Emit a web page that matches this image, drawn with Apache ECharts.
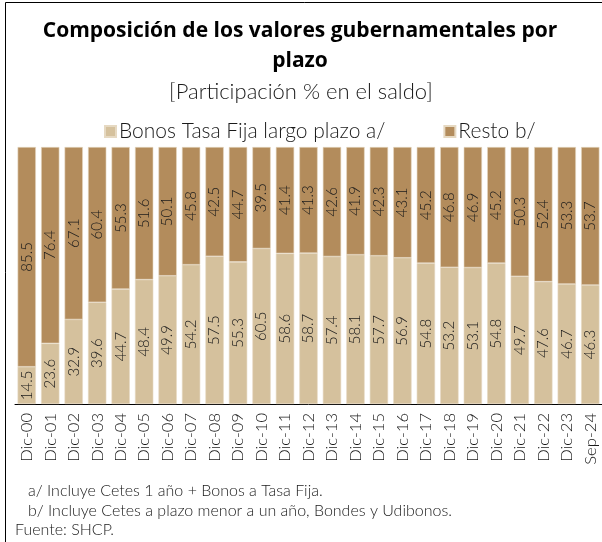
<!DOCTYPE html>
<html>
<head>
<meta charset="utf-8">
<script src="https://cdn.jsdelivr.net/npm/echarts@6/dist/echarts.min.js"></script>
<style>
  html, body { margin: 0; padding: 0; background: #fff; }
  #main { width: 602px; height: 542px; }
</style>
</head>
<body>
<div id="main"></div>
<script>
var categories = ['Dic-00', 'Dic-01', 'Dic-02', 'Dic-03', 'Dic-04', 'Dic-05', 'Dic-06', 'Dic-07', 'Dic-08', 'Dic-09',
  'Dic-10', 'Dic-11', 'Dic-12', 'Dic-13', 'Dic-14', 'Dic-15', 'Dic-16', 'Dic-17', 'Dic-18', 'Dic-19',
  'Dic-20', 'Dic-21', 'Dic-22', 'Dic-23', 'Sep-24'];
var bonosTasaFija = [14.5, 23.6, 32.9, 39.6, 44.7, 48.4, 49.9, 54.2, 57.5, 55.3,
  60.5, 58.6, 58.7, 57.4, 58.1, 57.7, 56.9, 54.8, 53.2, 53.1,
  54.8, 49.7, 47.6, 46.7, 46.3];
var resto = [85.5, 76.4, 67.1, 60.4, 55.3, 51.6, 50.1, 45.8, 42.5, 44.7,
  39.5, 41.4, 41.3, 42.6, 41.9, 42.3, 43.1, 45.2, 46.8, 46.9,
  45.2, 50.3, 52.4, 53.3, 53.7];

var chartDom = document.getElementById('main');
var myChart = echarts.init(chartDom);
var option;

var lightFont = 'Lato';
var labelStyle = {
  show: true,
  position: 'inside',
  rotate: 90,
  color: '#1a1a1a',
  fontFamily: lightFont,
  fontWeight: 300,
  fontSize: 15,
  formatter: function (p) {
    return p.value.toFixed(1);
  }
};

option = {
  animation: false,
  color: ['#d5c19d', '#b38c5c'],
  legend: {
    top: 116,
    left: 99,
    itemGap: 58,
    itemWidth: 11,
    itemHeight: 11,
    icon: 'rect',
    textStyle: {
      fontFamily: lightFont,
      fontWeight: 300,
      fontSize: 21,
      color: '#1a1a1a',
      padding: [0, 0, 0, -2]
    },
    data: ['Bonos Tasa Fija largo plazo a/', 'Resto b/']
  },
  grid: {
    left: 15,
    right: 0,
    top: 147,
    bottom: 138
  },
  xAxis: {
    type: 'category',
    data: categories,
    axisTick: { show: false },
    axisLine: { lineStyle: { color: '#000', width: 1 } },
    axisLabel: {
      rotate: 90,
      margin: 9,
      interval: 0,
      color: '#1a1a1a',
      fontFamily: lightFont,
      fontWeight: 300,
      fontSize: 16.5
    }
  },
  yAxis: {
    type: 'value',
    min: 0,
    max: 100,
    show: false
  },
  series: [
    {
      name: 'Bonos Tasa Fija largo plazo a/',
      type: 'bar',
      stack: 'total',
      barCategoryGap: '22%',
      data: bonosTasaFija,
      itemStyle: { borderColor: '#e6d9c2', borderWidth: 0.6 },
      label: labelStyle
    },
    {
      name: 'Resto b/',
      type: 'bar',
      stack: 'total',
      barCategoryGap: '22%',
      data: resto,
      itemStyle: { borderColor: '#e6d9c2', borderWidth: 0.6 },
      label: labelStyle
    }
  ],
  graphic: [
    {
      type: 'polyline',
      shape: { points: [[5.5, 545], [5.5, 2.5], [605, 2.5]] },
      style: { stroke: '#000', lineWidth: 1, fill: null }
    },
    {
      type: 'text',
      x: 300,
      y: 31,
      style: {
        text: 'Composición de los valores gubernamentales por',
        align: 'center',
        verticalAlign: 'middle',
        fontFamily: 'Open Sans',
        fontWeight: 'bold',
        fontSize: 21,
        fill: '#000'
      }
    },
    {
      type: 'text',
      x: 300,
      y: 61,
      style: {
        text: 'plazo',
        align: 'center',
        verticalAlign: 'middle',
        fontFamily: 'Open Sans',
        fontWeight: 'bold',
        fontSize: 21,
        fill: '#000'
      }
    },
    {
      type: 'text',
      x: 301,
      y: 92,
      style: {
        text: '[Participación % en el saldo]',
        align: 'center',
        verticalAlign: 'middle',
        fontFamily: lightFont,
        fontWeight: 300,
        fontSize: 22,
        fill: '#1a1a1a'
      }
    },
    {
      type: 'text',
      x: 28,
      y: 491,
      style: {
        text: 'a/ Incluye Cetes 1 año + Bonos a Tasa Fija.',
        verticalAlign: 'middle',
        fontFamily: lightFont,
        fontWeight: 300,
        fontSize: 16,
        fill: '#1a1a1a'
      }
    },
    {
      type: 'text',
      x: 28,
      y: 511,
      style: {
        text: 'b/ Incluye Cetes a plazo menor a un año, Bondes y Udibonos.',
        verticalAlign: 'middle',
        fontFamily: lightFont,
        fontWeight: 300,
        fontSize: 16,
        fill: '#1a1a1a'
      }
    },
    {
      type: 'text',
      x: 15,
      y: 530,
      style: {
        text: 'Fuente: SHCP.',
        verticalAlign: 'middle',
        fontFamily: lightFont,
        fontWeight: 300,
        fontSize: 16,
        fill: '#1a1a1a'
      }
    }
  ]
};

option && myChart.setOption(option);
</script>
</body>
</html>
